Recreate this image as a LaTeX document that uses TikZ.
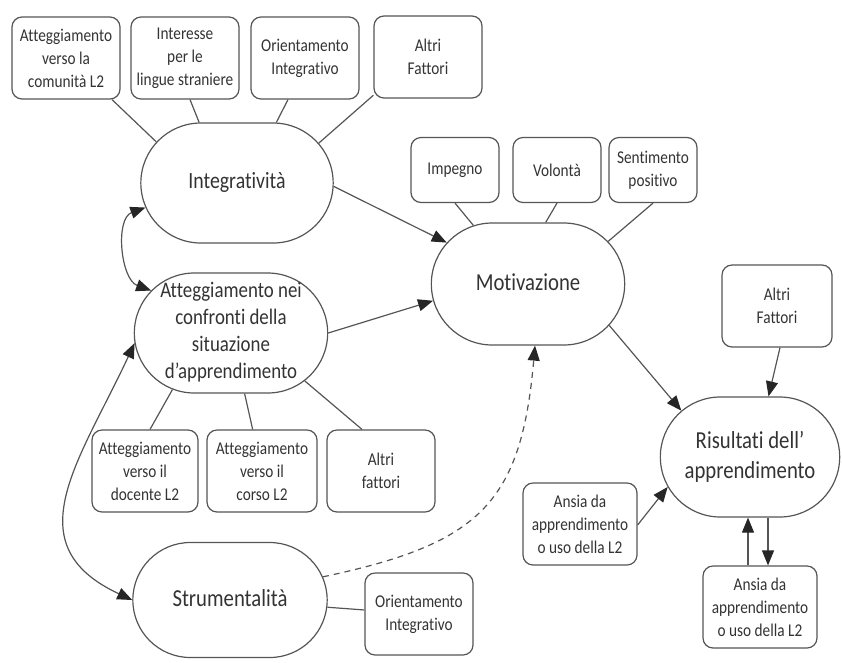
\documentclass[tikz,border=0pt]{standalone}
\usepackage{fontspec}
\setmainfont{Carlito}[FakeStretch=0.85, Ligatures=NoCommon]
\usetikzlibrary{shapes.misc,arrows.meta}
\definecolor{linec}{HTML}{555555}
\definecolor{textc}{HTML}{333333}
\newcommand{\ovtext}[1]{\makebox[0pt]{\begin{tabular}{@{}c@{}}#1\end{tabular}}}
\tikzset{
  oval/.style={rounded rectangle, draw=linec, line width=1.2pt, minimum width=200pt, minimum height=120pt,
    text=textc, font=\fontsize{24.4}{30}\selectfont},
  fbox/.style={rectangle, rounded corners=10pt, draw=linec, line width=1.2pt, minimum width=108pt,
    minimum height=82pt, inner sep=2pt, align=center, text=textc, font=\fontsize{18}{23}\selectfont},
  sbox/.style={fbox, minimum width=88pt, minimum height=65pt},
  link/.style={draw=linec, line width=1.2pt},
  arr/.style={link, -{Triangle[length=15pt,width=12pt,color=black!85]}},
  darr/.style={link, {Triangle[length=15pt,width=12pt,color=black!85]}-{Triangle[length=15pt,width=12pt,color=black!85]}},
  dasharr/.style={arr, dash pattern=on 6pt off 5pt},
}
\begin{document}
\begin{tikzpicture}[x=1pt,y=-1pt]
\useasboundingbox (0,0) rectangle (842,662);
\node[fbox] (com) at (66,58) {Atteggiamento\\verso la\\comunità L2};
\node[fbox] (lin) at (185,58) {Interesse\\per le\\lingue straniere};
\node[fbox] (ori) at (305,58) {Orientamento\\Integrativo};
\node[fbox] (alt) at (428,57) {Altri\\Fattori};
\node[oval, minimum width=199pt, font=\fontsize{23.3}{28}\selectfont] (integ) at (237,183) {\ovtext{Integratività}};
\node[oval, font=\fontsize{22.2}{27}\selectfont] (att) at (231,333) {\ovtext{Atteggiamento nei\\confronti della\\situazione\\d’apprendimento}};
\node[oval, minimum height=122pt] (motiv) at (528,284) {\ovtext{Motivazione}};
\node[oval, minimum width=186pt] (ris) at (750,457) {\ovtext{Risultati dell’\\apprendimento}};
\node[oval, minimum width=201pt, minimum height=115pt] (strum) at (230,600) {\ovtext{Strumentalità}};
\node[sbox] (imp) at (455,170) {Impegno};
\node[sbox] (vol) at (557,170) {Volontà};
\node[sbox] (sen) at (653,170) {Sentimento\\positivo};
\node[fbox, minimum width=110pt] (alt2) at (777,306) {Altri\\Fattori};
\node[fbox, minimum width=114pt] (ans) at (580,524) {Ansia da\\apprendimento\\o uso della L2};
\node[fbox, minimum width=114pt] (ans2) at (760,607) {Ansia da\\apprendimento\\o uso della L2};
\node[fbox, minimum width=106pt] (doc) at (145,471) {Atteggiamento\\verso il\\docente L2};
\node[fbox, minimum width=110pt] (cor) at (262,471) {Atteggiamento\\verso il\\corso L2};
\node[fbox] (alt3) at (381,471) {Altri\\fattori};
\node[fbox] (ori2) at (419,614) {Orientamento\\Integrativo};

\draw[link] ([xshift=46pt]com.south) -- (integ.153);
\draw[link] ([xshift=5pt]lin.south) -- (integ.122);
\draw[link] ([xshift=-17pt]ori.south) -- (integ.57);
\draw[link] (alt.215) -- (integ.26);
\draw[link] (imp.south) -- (motiv.133);
\draw[link] (vol.south) -- (motiv.74);
\draw[link] (sen.south) -- (motiv.28);
\draw[link] ([xshift=5pt]doc.north) -- (att.224);
\draw[link] (cor) -- (att);
\draw[link] ([xshift=-19pt]alt3.north) -- (att.-33);
\draw[link] (strum) -- (ori2);

\draw[arr] (integ.-2) -- (motiv.153);
\draw[arr] (att.east) -- (motiv.190);
\draw[arr] (motiv.-27) -- (ris.146);
\draw[arr] ([xshift=3pt]alt2.south) -- (ris.73);
\draw[arr] ([yshift=-1pt]ans.east) -- (ris.200);
\draw[arr] ([xshift=-12pt]ans2.north) -- ([xshift=-12pt]ans2.north |- ris.south);
\draw[arr] ([xshift=8pt]ans2.north |- ris.south) -- ([xshift=8pt]ans2.north);
\draw[darr] (integ.195) to[out=200, in=160] (att.152);
\draw[darr] (att.186) to[out=245, in=155, looseness=1.3] (strum.west);
\draw[dasharr] (strum.14) to[out=12, in=-95, looseness=1.3] ([xshift=7pt]motiv.south);
\end{tikzpicture}
\end{document}
